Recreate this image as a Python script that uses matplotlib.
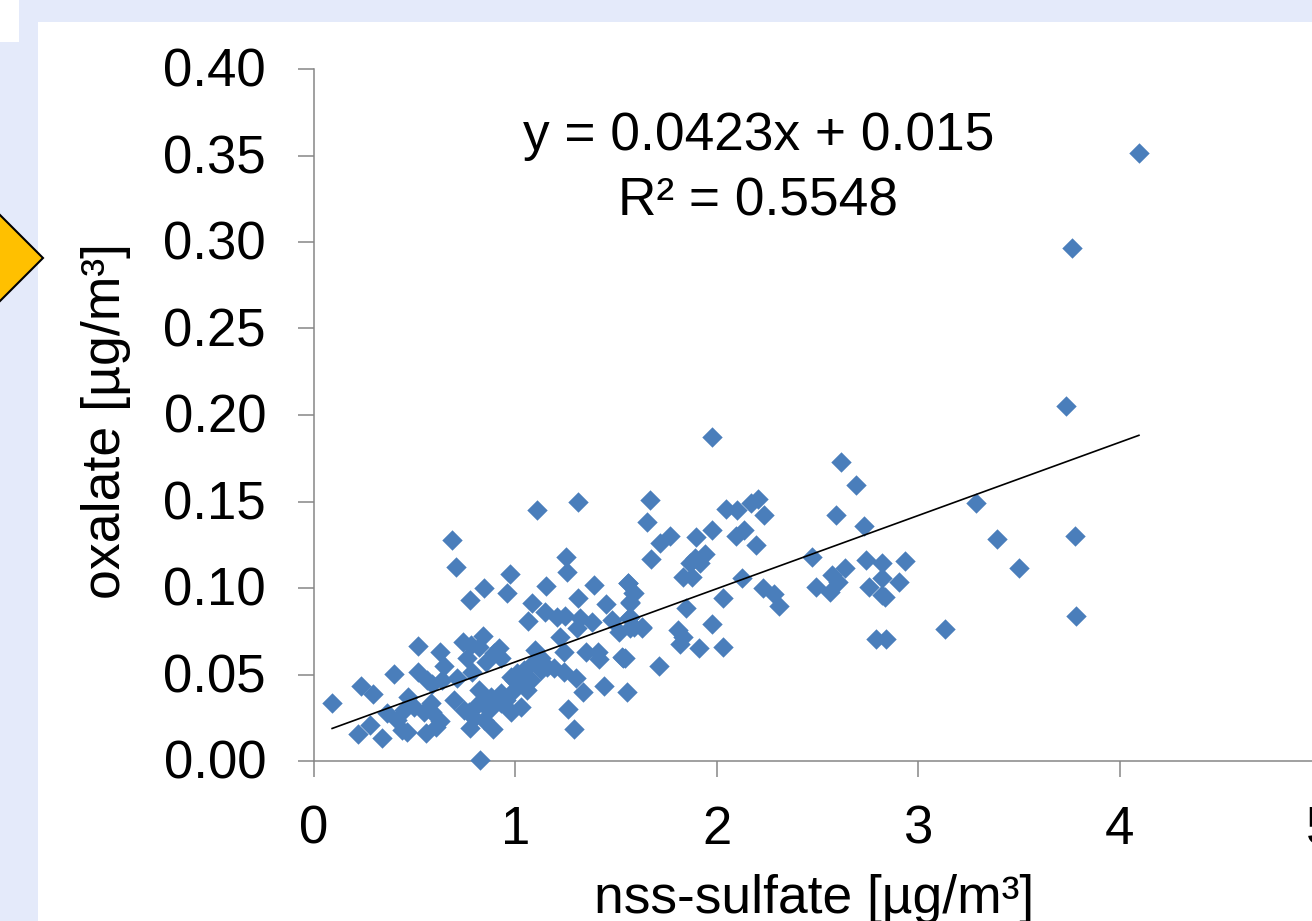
import matplotlib
matplotlib.use("Agg")
import matplotlib.pyplot as plt
from matplotlib.patches import Rectangle, Polygon
from matplotlib.transforms import ScaledTranslation

plt.rcParams['font.family'] = ['Liberation Sans', 'DejaVu Sans']

sulfate = [0.09,0.685,0.705,0.842,0.773,0.973,0.957,1.154,1.082,1.064,1.25,1.255,1.312,1.389,1.448,1.559,1.589,1.567,
 1.149,1.208,1.245,1.32,1.379,1.221,1.307,1.481,1.514,1.564,1.589,1.63,1.241,1.349,1.41,1.415,1.536,1.531,1.097,
 0.516,0.624,0.741,0.841,0.778,0.819,0.919,0.894,0.761,0.645,0.927,0.852,0.232,0.293,0.397,0.518,0.563,0.467,0.588,
 0.637,0.712,0.786,0.695,0.819,0.745,0.877,0.927,0.976,1.043,1.092,1.125,1.192,1.241,1.299,1.337,1.44,1.552,1.263,
 1.289,0.824,0.278,0.22,0.339,0.364,0.414,0.439,0.463,0.554,0.604,0.626,0.497,0.579,0.546,0.588,0.447,0.773,0.89,
 0.844,0.794,0.869,0.819,0.77,0.927,0.976,1.026,0.993,1.059,1.026,0.993,1.076,1.125,1.159,1.01,0.952,
 1.976,2.615,2.691,2.59,2.732,1.667,1.652,1.767,1.718,1.675,1.895,1.974,2.044,2.099,2.168,2.206,2.236,2.135,2.095,
 2.194,1.941,1.917,1.867,1.892,1.875,1.834,2.127,2.231,2.284,2.31,2.032,1.846,1.978,1.806,1.834,1.817,1.912,2.032,
 1.714,1.544,1.561,1.585,1.569,1.569,1.627,1.569,2.473,2.741,2.819,2.934,2.637,2.571,2.603,2.493,2.562,2.819,2.757,
 2.906,2.835,2.819,2.79,2.84,3.133,3.287,3.391,3.5,3.779,3.783,3.734,3.764,4.096,1.107,1.311]
oxalate = [0.0335,0.128,0.112,0.1,0.093,0.108,0.097,0.101,0.0915,0.081,0.118,0.109,0.094,0.1015,0.091,0.103,0.097,0.0915,
 0.086,0.0835,0.084,0.0825,0.0805,0.0715,0.0767,0.0815,0.0748,0.0825,0.0776,0.0767,0.063,0.063,0.063,0.0588,0.0593,0.06,0.064,
 0.0667,0.0628,0.069,0.072,0.067,0.066,0.0655,0.0622,0.0593,0.0549,0.0593,0.0574,0.0435,0.0389,0.0503,0.0516,0.0468,0.0372,0.0445,
 0.0468,0.0478,0.0516,0.0353,0.041,0.0295,0.0372,0.0391,0.0487,0.0526,0.0574,0.0593,0.0536,0.0516,0.0478,0.04,0.0435,0.04,0.0303,
 0.0185,0.0006,0.0208,0.0158,0.0131,0.0276,0.0237,0.0179,0.017,0.016,0.0198,0.0233,0.0314,0.0333,0.0285,0.0285,0.0295,0.0189,0.0185,
 0.0237,0.0247,0.0295,0.0333,0.0285,0.0333,0.0285,0.0314,0.041,0.041,0.0449,0.0468,0.0468,0.0526,0.0545,0.0507,0.0353,
 0.1873,0.1728,0.1597,0.142,0.1356,0.1509,0.138,0.1302,0.1262,0.1168,0.1295,0.1335,0.1458,0.1451,0.1493,0.1514,0.1422,0.1335,0.13,
 0.1249,0.1195,0.1143,0.1143,0.1173,0.1066,0.1066,0.1056,0.1002,0.0965,0.0898,0.094,0.0886,0.0794,0.0757,0.0718,0.0676,0.0651,0.0657,
 0.0551,0.0594,0.1027,0.0973,0.0917,0.0834,0.0776,0.0769,0.1177,0.1162,0.1146,0.1158,0.1117,0.1075,0.1036,0.1004,0.0979,0.1056,0.1008,
 0.1036,0.095,0.096,0.0703,0.0703,0.0763,0.1491,0.1283,0.1116,0.1301,0.0838,0.2052,0.2965,0.3514,0.1451,0.1497]

trend_x = [0.09, 4.096]
trend_slope = 0.0423
trend_intercept = 0.015
trend_y = [trend_slope * v + trend_intercept for v in trend_x]

x_ticks = [0, 1, 2, 3, 4, 5]
y_ticks = [0.00, 0.05, 0.10, 0.15, 0.20, 0.25, 0.30, 0.35, 0.40]
x_label = "nss-sulfate [µg/m³]"
y_label = "oxalate [µg/m³]"
equation = "y = 0.0423x + 0.015\nR² = 0.5548"

W, H = 1312, 921
BG = "#E4EAFA"
AXC = "#868686"
fig = plt.figure(figsize=(W / 100, H / 100), dpi=100, facecolor=BG)

# slide background shapes, in pixel coordinates of the figure
bg = fig.add_axes([0, 0, 1, 1], zorder=0)
bg.set_xlim(0, W)
bg.set_ylim(H, 0)
bg.axis("off")
bg.add_patch(Rectangle((0, 0), 19, 42, fc="white", ec="none"))
bg.add_patch(Rectangle((38, 22), W - 38, H - 22, fc="white", ec="none"))
bg.add_patch(Polygon([(-42, 258), (0, 215), (43, 258), (0, 301)], closed=True,
                     fc="#FFC000", ec="black", lw=1.5))

left, right, top, bottom = 314, 314 + 5 * 201.4, 69, 761
ax = fig.add_axes([left / W, 1 - bottom / H, (right - left) / W, (bottom - top) / H], zorder=1)
ax.patch.set_alpha(0)
ax.set_xlim(0, 5)
ax.set_ylim(0, 0.40)
for s in ("top", "right"):
    ax.spines[s].set_visible(False)
for s in ("left", "bottom"):
    ax.spines[s].set_color(AXC)
    ax.spines[s].set_linewidth(1.1)

ax.scatter(sulfate, oxalate, marker="D", s=108, c="#4A7EBB", linewidths=0, clip_on=False, zorder=3)
ax.plot(trend_x, trend_y, color="black", lw=1.2, zorder=4)

ax.set_xticks(x_ticks)
ax.set_yticks(y_ticks)
ax.set_yticklabels([f"{v:.2f}" for v in y_ticks])
ax.tick_params(axis="both", direction="out", length=11.5, width=1.1, color=AXC, labelsize=38)
ax.tick_params(axis="x", pad=20)
ax.tick_params(axis="y", pad=23)
lift = ScaledTranslation(0, 2 / 100, fig.dpi_scale_trans)
for lab in ax.get_yticklabels():
    lab.set_transform(lab.get_transform() + lift)

ax.set_xlabel(x_label, fontsize=38.4, va="center")
ax.xaxis.set_label_coords((814 - left) / (right - left), -(899 - bottom) / (bottom - top))
ax.set_ylabel(y_label, fontsize=38.6, va="center")
ax.yaxis.set_label_coords(-(left - 106) / (right - left), (bottom - 421) / (bottom - top))

ax.text(2.206, 0.3423, equation, fontsize=38.3, ha="center", va="center", linespacing=1.41)

fig.savefig("out.png", dpi=100, facecolor=BG)
